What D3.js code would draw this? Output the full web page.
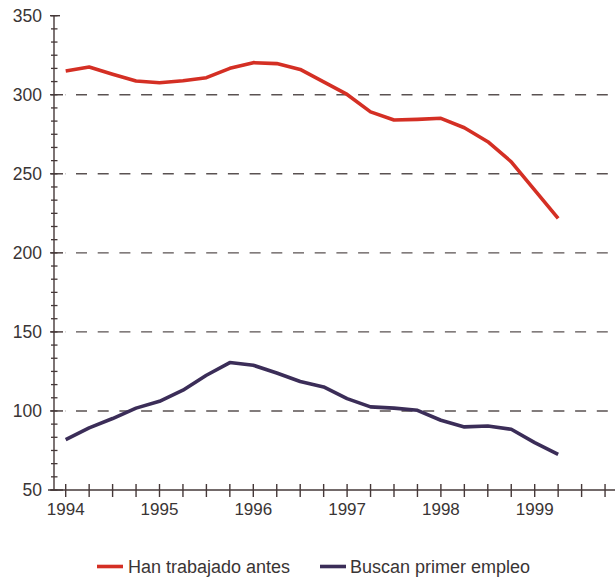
<!DOCTYPE html>
<html>
<head>
<meta charset="utf-8">
<script src="https://cdn.jsdelivr.net/npm/d3@7"></script>
<style>
  html, body { margin: 0; padding: 0; background: #ffffff; }
  svg { display: block; }
  text { font-family: "Liberation Sans", Arial, Helvetica, sans-serif; fill: #3a3535; }
</style>
</head>
<body>
<svg id="chart" width="615" height="579"></svg>
<script>
// ---- data (quarterly, 1994 Q1 .. 1999 Q2) ----
const quarters = d3.range(22); // index of quarter since 1994 Q1
const hanTrabajado = [315, 317.5, 313, 308.7, 307.6, 308.9, 310.8, 316.7, 320.3, 319.7, 316, 308.2,
                      300.2, 289.2, 284, 284.4, 285.1, 279.1, 270.3, 257.6, 239.7, 221.8];
const buscanPrimer = [81.9, 89.3, 95.2, 101.8, 106.1, 113.1, 122.6, 130.6, 128.9, 124, 118.6, 115.2,
                      107.8, 102.6, 101.8, 100.4, 94.1, 89.9, 90.5, 88.4, 80, 72.6];
const yearLabels = ["1994", "1995", "1996", "1997", "1998", "1999"];
const yTicks = [50, 100, 150, 200, 250, 300, 350];
const gridValues = [100, 150, 200, 250, 300];
const seriesNames = ["Han trabajado antes", "Buscan primer empleo"];
const seriesColors = ["#d42f24", "#3b2d58"];

const svg = d3.select("#chart");
const axisColor = "#453838";

// scales
const x = d3.scaleLinear().domain([0, 23]).range([65.7, 65.7 + 23 * 23.45]);
const y = d3.scaleLinear().domain([50, 350]).range([490, 15.7]);

// gridlines
svg.append("g").selectAll("line").data(gridValues).join("line")
  .attr("x1", 65).attr("x2", 615)
  .attr("y1", d => y(d)).attr("y2", d => y(d))
  .attr("stroke", "#5a5252").attr("stroke-width", 1.4)
  .attr("stroke-dasharray", "0,11,11,10.7".split(",").slice(2).join(","))
  .attr("stroke-dashoffset", -11);

// y axis
const yAxisX = 54;
svg.append("line").attr("x1", yAxisX).attr("x2", yAxisX)
  .attr("y1", y(350)).attr("y2", y(50))
  .attr("stroke", axisColor).attr("stroke-width", 1.4);
// minor ticks (6 per 50)
const minorY = d3.range(50, 350.01, 50 / 6);
svg.append("g").selectAll("line").data(minorY).join("line")
  .attr("x1", yAxisX - 3).attr("x2", yAxisX + 3.5)
  .attr("y1", d => y(d)).attr("y2", d => y(d))
  .attr("stroke", axisColor).attr("stroke-width", 1.3);
// major ticks
svg.append("g").selectAll("line").data(yTicks).join("line")
  .attr("x1", yAxisX - 4).attr("x2", d => d === 350 ? yAxisX + 6 : yAxisX + 9)
  .attr("y1", d => y(d)).attr("y2", d => y(d))
  .attr("stroke", axisColor).attr("stroke-width", 1.4);
svg.append("g").selectAll("text").data(yTicks).join("text")
  .attr("x", 42).attr("y", d => y(d) + 6)
  .attr("text-anchor", "end").attr("font-size", 17.5)
  .text(d => d);

// x axis
svg.append("line").attr("x1", 48).attr("x2", 615)
  .attr("y1", y(50)).attr("y2", y(50))
  .attr("stroke", axisColor).attr("stroke-width", 1.4);
svg.append("g").selectAll("line").data(d3.range(24)).join("line")
  .attr("x1", d => x(d)).attr("x2", d => x(d))
  .attr("y1", y(50) - 6).attr("y2", y(50) + 7)
  .attr("stroke", axisColor).attr("stroke-width", 1.4);
svg.append("g").selectAll("text").data(yearLabels).join("text")
  .attr("x", (d, i) => x(i * 4)).attr("y", 515)
  .attr("text-anchor", "middle").attr("font-size", 17)
  .text(d => d);

// lines
const line = d3.line().x((d, i) => x(quarters[i])).y(d => y(d));
[hanTrabajado, buscanPrimer].forEach((vals, i) => {
  svg.append("path").datum(vals)
    .attr("d", line)
    .attr("fill", "none")
    .attr("stroke", seriesColors[i])
    .attr("stroke-width", 3.6)
    .attr("stroke-linejoin", "round");
});

// legend
const legendItems = [{ x: 97, tx: 128 }, { x: 320, tx: 350 }];
legendItems.forEach((p, i) => {
  svg.append("line").attr("x1", p.x).attr("x2", p.x + 26)
    .attr("y1", 566.5).attr("y2", 566.5)
    .attr("stroke", seriesColors[i]).attr("stroke-width", 3.6);
  svg.append("text").attr("x", p.tx).attr("y", 572.5)
    .attr("font-size", 18).text(seriesNames[i]);
});
</script>
</body>
</html>
